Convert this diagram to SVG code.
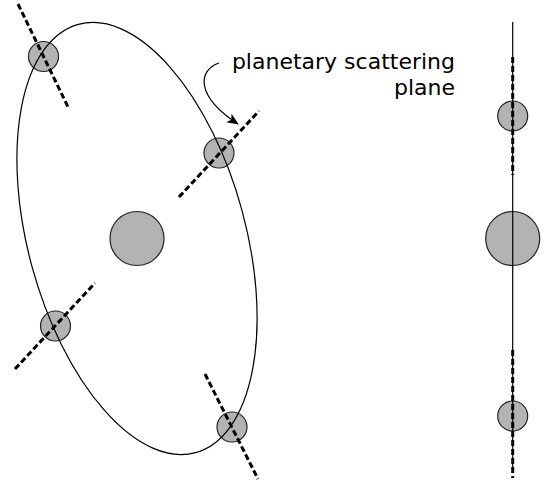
<svg xmlns="http://www.w3.org/2000/svg" width="549" height="480" viewBox="0 0 549 480">
<defs>
<style>
.body{fill:#b3b3b3;stroke:#222;stroke-width:1.2}
.orbit{fill:none;stroke:#000;stroke-width:1.2}
.plane{fill:none;stroke:#000;stroke-width:3;stroke-dasharray:6,3}
.lbl{font-family:"DejaVu Sans",sans-serif;font-size:22px;fill:#000;text-anchor:end}
</style>
<marker id="ah" viewBox="0 0 12 10" refX="11" refY="5" markerWidth="12" markerHeight="10" markerUnits="userSpaceOnUse" orient="auto">
<path d="M0,0 L12,5 L0,10 L3,5 Z" fill="#000"/>
</marker>
</defs>
<rect width="549" height="480" fill="#fff"/>
<g id="star-left"><circle class="body" cx="137" cy="238.5" r="27"/></g>
<g id="planet-1"><circle class="body" cx="43.5" cy="56.5" r="15"/></g>
<g id="planet-2"><circle class="body" cx="219" cy="153" r="15"/></g>
<g id="planet-3"><circle class="body" cx="55.5" cy="326" r="15"/></g>
<g id="planet-4"><circle class="body" cx="232" cy="427" r="15"/></g>
<g id="orbit"><ellipse class="orbit" cx="137" cy="238.5" rx="222" ry="108.7" transform="rotate(74.7 137 238.5)"/></g>
<g id="star-right"><circle class="body" cx="512.7" cy="238.5" r="27"/></g>
<g id="planet-r1"><circle class="body" cx="512.7" cy="116" r="15"/></g>
<g id="planet-r2"><circle class="body" cx="512.7" cy="416" r="15"/></g>
<g id="connectors">
<line class="plane" x1="18" y1="4" x2="69" y2="109"/>
<line class="plane" x1="179" y1="197" x2="259" y2="111"/>
<line class="plane" x1="15" y1="369" x2="95" y2="283"/>
<line class="plane" x1="205" y1="374" x2="258" y2="479"/>
<line class="orbit" x1="512.7" y1="22" x2="512.7" y2="472"/>
<line class="plane" x1="512.7" y1="57" x2="512.7" y2="175"/>
<line class="plane" x1="512.7" y1="350" x2="512.7" y2="478"/>
<path d="M219,63 C198,70 195,96 238,124" fill="none" stroke="#000" stroke-width="1.2" marker-end="url(#ah)"/>
</g>
<g id="label">
<text class="lbl" x="455" y="69">planetary scattering</text>
<text class="lbl" x="455" y="95">plane</text>
</g>
</svg>
